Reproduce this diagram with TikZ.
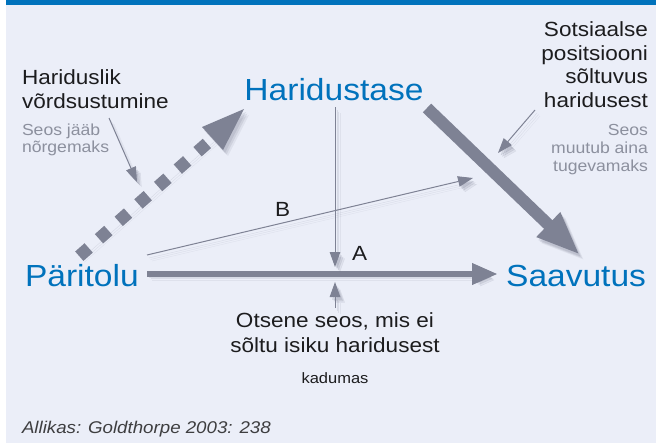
\documentclass[tikz,border=0pt]{standalone}
\usepackage{fontspec}
\setmainfont[FakeStretch=1.1]{Liberation Sans}
\usetikzlibrary{arrows.meta}
\definecolor{bgc}{RGB}{235,238,248}
\definecolor{bluec}{RGB}{0,114,188}
\definecolor{arrc}{RGB}{126,130,148}
\definecolor{notec}{RGB}{140,144,158}
\definecolor{txtc}{RGB}{28,28,30}
\definecolor{shc}{RGB}{110,114,135}
\begin{document}
\begin{tikzpicture}[x=1pt,y=-1pt,
  every node/.style={inner sep=0pt,outer sep=0pt},
  big/.style={text=bluec,font=\fontsize{30.5}{34}\selectfont},
  lab/.style={text=txtc,font=\fontsize{20.5}{24}\selectfont},
  note/.style={text=notec,font=\fontsize{16}{18}\selectfont},
  small/.style={text=txtc,font=\fontsize{15}{17}\selectfont},
  src/.style={text=txtc!85,font=\fontsize{17}{20}\selectfont\itshape},
  shad/.style={preaction={draw=shc,opacity=0.10,transform canvas={shift={(5,6)}}},
               preaction={draw=shc,opacity=0.14,transform canvas={shift={(3.5,4.5)}}},
               preaction={draw=shc,opacity=0.16,transform canvas={shift={(2,3)}}}},
  shadf/.style={preaction={fill=shc,opacity=0.10,transform canvas={shift={(5,6)}}},
                preaction={fill=shc,opacity=0.14,transform canvas={shift={(3.5,4.5)}}},
                preaction={fill=shc,opacity=0.16,transform canvas={shift={(2,3)}}}},
  thin/.style={draw=arrc,line width=1pt,-{Triangle[length=15pt,width=10.5pt]}},
]
\useasboundingbox (0,0) rectangle (658,444);
\fill[white] (0,0) rectangle (658,444);
\fill[bgc] (6,0) rectangle (656,443);
\fill[bluec] (6,0) rectangle (656,5);

% main nodes
\node[big,anchor=base] (har) at (334,100) {Haridustase};
\node[big,anchor=base west] (par) at (25,286) {Päritolu};
\node[big,anchor=base east] (saa) at (646,286) {Saavutus};

% labels left
\node[lab,anchor=base west] (hv1) at (22,84) {Hariduslik};
\node[lab,anchor=base west] (hv2) at (22,108) {võrdsustumine};
\node[note,anchor=base west] (hn1) at (22,135) {Seos jääb};
\node[note,anchor=base west] (hn2) at (22,152) {nõrgemaks};

% labels right
\node[lab,anchor=base east] (so1) at (648,37) {Sotsiaalse};
\node[lab,anchor=base east] (so2) at (648,60) {positsiooni};
\node[lab,anchor=base east] (so3) at (648,83.5) {sõltuvus};
\node[lab,anchor=base east] (so4) at (648,107) {haridusest};
\node[note,anchor=base east] (sn1) at (648,135) {Seos};
\node[note,anchor=base east] (sn2) at (648,153) {muutub aina};
\node[note,anchor=base east] (sn3) at (648,171) {tugevamaks};

% A, B
\node[lab,anchor=base west] (la) at (352,260) {A};
\node[lab,anchor=base west] (lb) at (275,216) {B};

% bottom
\node[lab,anchor=base] (ot1) at (335,327) {Otsene seos, mis ei};
\node[lab,anchor=base] (ot2) at (335,352) {sõltu isiku haridusest};
\node[small,anchor=base] (kad) at (335,383) {kadumas};
\node[src,anchor=base west] (all) at (22,433) {Allikas: Goldthorpe 2003: 238};

% coordinates for connector ends
\coordinate (dotS) at (79.3,256.2);
\coordinate (dotE) at (212.5,138.5);
\coordinate (dtip) at (244,109);
\coordinate (dc1) at (202,127);
\coordinate (dc2) at (223,150);
\coordinate (hS) at (427,108);
\coordinate (sT) at (580,255);
\coordinate (pS) at (147,274);
\coordinate (sW) at (498,274);
\coordinate (aS) at (335,107);
\coordinate (aT) at (335,267);
\coordinate (cS) at (335,308);
\coordinate (cT) at (335,282);
\coordinate (bS) at (147,255);
\coordinate (bT) at (473,178);
\coordinate (lS) at (109,118);
\coordinate (lT) at (137,182);
\coordinate (rS) at (535,110);
\coordinate (rT) at (498,153);

% dotted thick arrow
\draw[shad,draw=arrc,line width=12.5pt,line cap=butt,dash pattern=on 12.5pt off 13.8pt] (dotS) -- (dotE);
\fill[shadf,fill=arrc] (dtip) -- (dc1) -- (dc2) -- cycle;

% thick arrows
\draw[shad,draw=arrc,line width=12pt,-{Triangle[length=44pt,width=31pt]}] (hS) -- (sT);
\draw[shad,draw=arrc,line width=6.5pt,-{Triangle[length=26pt,width=20pt]}] (pS) -- (sW);

% thin arrows
\draw[shad,thin] (bS) -- (bT);
\draw[shad,thin] (aS) -- (aT);
\draw[shad,thin] (cS) -- (cT);
\draw[shad,thin] (lS) -- (lT);
\draw[shad,thin] (rS) -- (rT);
\end{tikzpicture}
\end{document}
